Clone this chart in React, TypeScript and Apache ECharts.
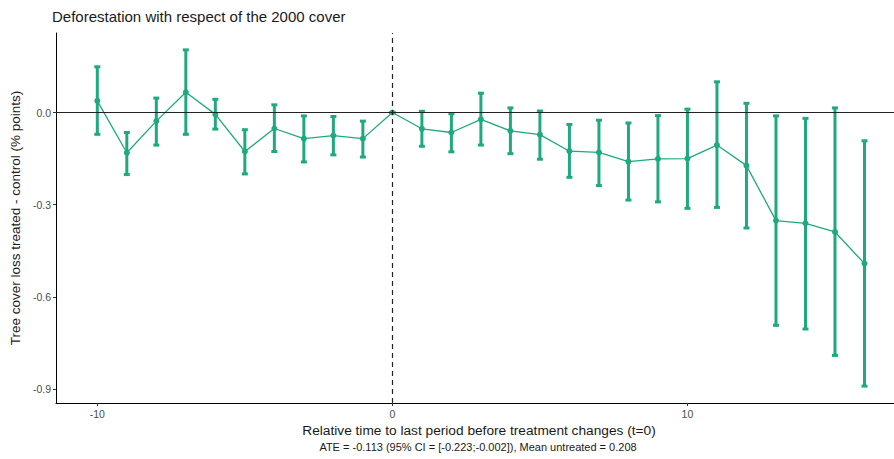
import React, { useEffect, useRef } from "react";
import * as echarts from "echarts";

const periods = [-10, -9, -8, -7, -6, -5, -4, -3, -2, -1, 0, 1, 2, 3, 4, 5, 6, 7, 8, 9, 10, 11, 12, 13, 14, 15, 16];
const estimates = [0.038, -0.131, -0.028, 0.066, -0.006, -0.127, -0.052, -0.085, -0.075, -0.085, 0, -0.053, -0.065, -0.022, -0.060, -0.072, -0.126, -0.130, -0.160, -0.151, -0.150, -0.106, -0.173, -0.352, -0.361, -0.389, -0.492];
const upperCI = [0.149, -0.065, 0.047, 0.204, 0.043, -0.056, 0.025, -0.011, -0.013, -0.028, 0, 0.004, -0.004, 0.063, 0.015, 0.005, -0.039, -0.025, -0.034, -0.010, 0.011, 0.100, 0.030, -0.011, -0.019, 0.015, -0.092];
const lowerCI = [-0.071, -0.202, -0.106, -0.071, -0.054, -0.200, -0.127, -0.161, -0.138, -0.145, 0, -0.110, -0.128, -0.106, -0.134, -0.152, -0.211, -0.238, -0.285, -0.291, -0.312, -0.309, -0.376, -0.693, -0.705, -0.791, -0.891];
const xTicks = [-10, 0, 10];
const yTicks = [0, -0.3, -0.6, -0.9];

const GREEN = "#1fa97e";
const FONT = "Liberation Sans, Arial, sans-serif";

export default function App() {
  const ref = useRef<HTMLDivElement>(null);
  useEffect(() => {
    if (!ref.current) return;
    const chart = echarts.init(ref.current, null, { renderer: "svg" });
    const lineData = periods.map((p, i) => [p, estimates[i]]);
    const errData = periods.map((p, i) => [p, lowerCI[i], upperCI[i]]);
    chart.setOption({
      animation: false,
      backgroundColor: "#ffffff",
      title: {
        text: "Deforestation with respect of the 2000 cover",
        left: 47,
        top: 4,
        textStyle: { fontFamily: FONT, fontSize: 15, fontWeight: "normal", color: "#1a1a1a" },
      },
      grid: { left: 52, right: 0, top: 33, bottom: 56 },
      xAxis: {
        type: "value",
        min: -11.4,
        max: 17.0,
        name: "Relative time to last period before treatment changes (t=0)",
        nameLocation: "middle",
        nameGap: 17,
        nameTextStyle: { fontFamily: FONT, fontSize: 13.7, color: "#1a1a1a", padding: [0, 0, 0, 8], verticalAlign: "top" },
        axisLine: { onZero: false, lineStyle: { color: "#000", width: 1 } },
        axisTick: { show: true, customValues: xTicks, length: 3, lineStyle: { color: "#333" } },
        axisLabel: { customValues: xTicks, fontFamily: FONT, fontSize: 10.5, color: "#4d4d4d", margin: 5 },
        splitLine: { show: false },
      },
      yAxis: {
        type: "value",
        min: -0.946,
        max: 0.259,
        name: "Tree cover loss treated - control (% points)",
        nameLocation: "middle",
        nameGap: 34,
        nameTextStyle: { fontFamily: FONT, fontSize: 13.5, color: "#1a1a1a" },
        axisLine: { show: true, onZero: false, lineStyle: { color: "#000", width: 1 } },
        axisTick: { show: true, customValues: yTicks, length: 3, lineStyle: { color: "#333" } },
        axisLabel: {
          customValues: yTicks,
          fontFamily: FONT,
          fontSize: 10.5,
          color: "#4d4d4d",
          margin: 5,
          formatter: (v: number) => v.toFixed(1),
        },
        splitLine: { show: false },
      },
      graphic: [
        {
          type: "text",
          x: 478,
          y: 447,
          style: {
            text: "ATE = -0.113 (95% CI = [-0.223;-0.002]), Mean untreated = 0.208",
            font: "11px " + FONT,
            fill: "#1a1a1a",
            align: "center",
            verticalAlign: "middle",
          },
        },
      ],
      series: [
        {
          type: "line",
          data: [],
          silent: true,
          markLine: {
            silent: true,
            symbol: "none",
            label: { show: false },
            data: [
              { yAxis: 0, lineStyle: { color: "#222", width: 1, type: "solid" } },
              { xAxis: 0, lineStyle: { color: "#222", width: 1.2, type: [5, 4] } },
            ],
          },
        },
        {
          type: "custom",
          data: errData,
          renderItem: (params: any, api: any) => {
            const x = api.value(0);
            const lo = api.coord([x, api.value(1)]);
            const hi = api.coord([x, api.value(2)]);
            const half = 3;
            const style = { stroke: GREEN, lineWidth: 3 };
            return {
              type: "group",
              children: [
                { type: "line", shape: { x1: lo[0], y1: lo[1], x2: hi[0], y2: hi[1] }, style },
                { type: "line", shape: { x1: lo[0] - half, y1: lo[1], x2: lo[0] + half, y2: lo[1] }, style },
                { type: "line", shape: { x1: hi[0] - half, y1: hi[1], x2: hi[0] + half, y2: hi[1] }, style },
              ],
            };
          },
          z: 3,
        },
        {
          type: "line",
          data: lineData,
          symbol: "circle",
          symbolSize: 6,
          itemStyle: { color: GREEN },
          lineStyle: { color: GREEN, width: 1.3 },
          z: 4,
        },
      ],
    });
    return () => chart.dispose();
  }, []);
  return <div ref={ref} style={{ width: 894, height: 459, position: "absolute", left: 0, top: 0 }} />;
}
